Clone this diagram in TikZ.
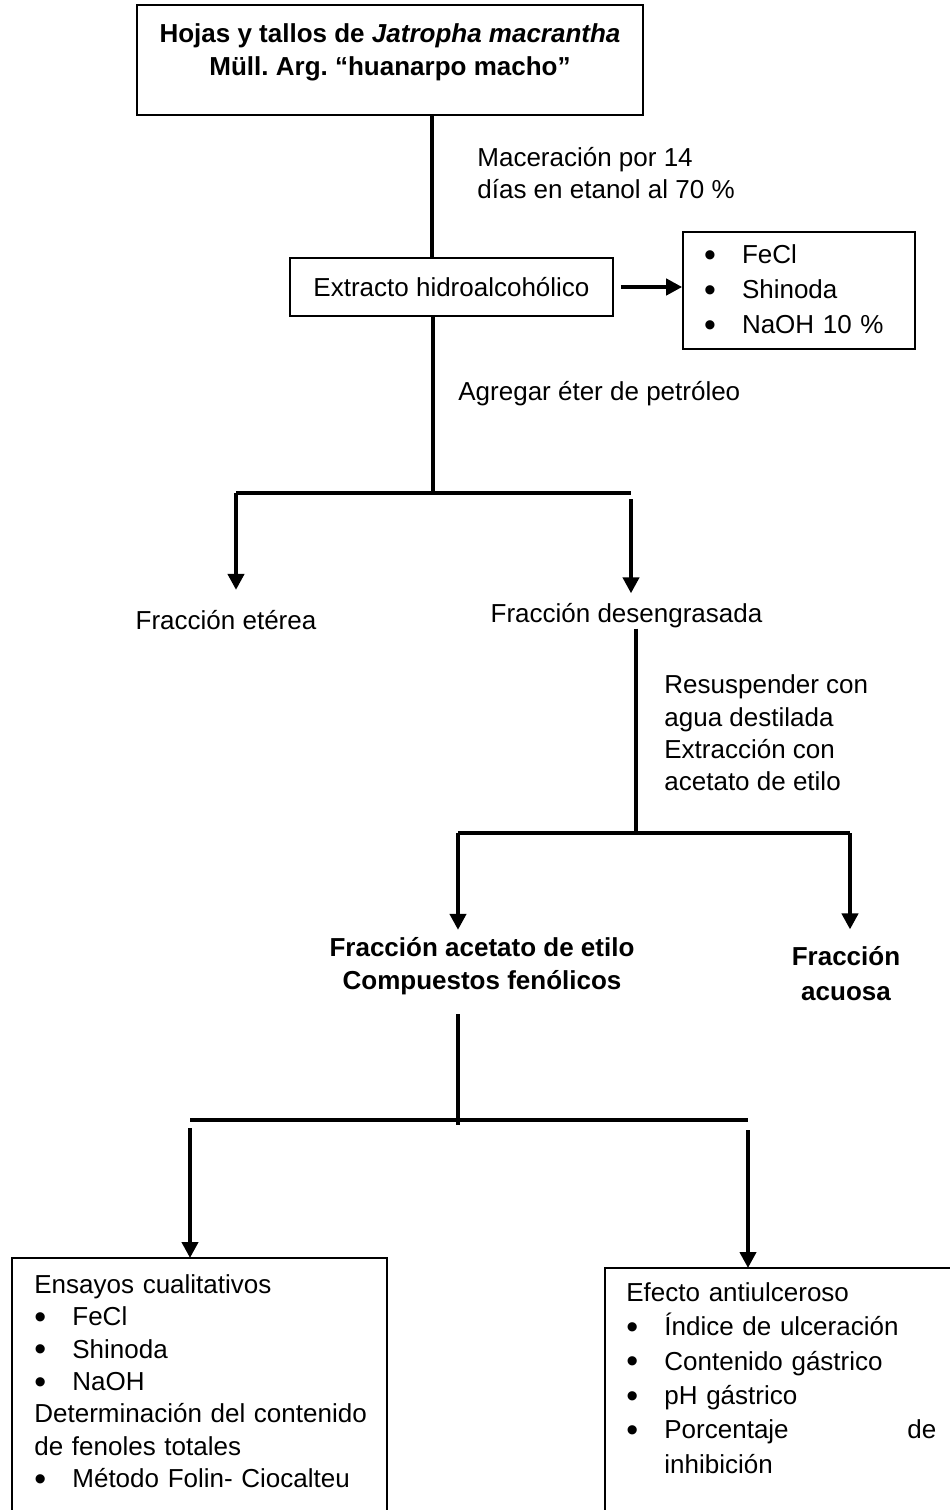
\documentclass[tikz,border=0pt]{standalone}
\usepackage{fontspec}
\setmainfont{Liberation Sans}
\usetikzlibrary{arrows.meta}
\frenchspacing

\newcommand{\bala}{\makebox[19pt][l]{\raisebox{-0.1em}{\scalebox{1.3}{\textbullet}}}}

\begin{document}
\begin{tikzpicture}[x=0.5pt,y=-0.5pt,>={Triangle[length=8pt,width=8pt]},
  linea/.style={line width=2pt},
  marco/.style={line width=0.8pt},
  caja/.style={draw,line width=0.8pt,inner sep=0pt},
  texto/.style={font=\fontsize{13pt}{16.2pt}\selectfont,inner sep=0pt,align=left},
  negrita/.style={font=\fontsize{13pt}{16.5pt}\selectfont\bfseries,inner sep=0pt,align=center}]

\useasboundingbox (0,0) rectangle (950,1510);

% cajas y textos
\node[caja,minimum width=253pt,minimum height=55pt] (hojas) at (390,60) {};
\node[negrita] (titulo) at (390,52) {Hojas y tallos de \textit{Jatropha macrantha}\\Müll. Arg. “huanarpo macho”};

\node[caja,texto,minimum width=161.5pt,minimum height=29pt] (extracto) at (451.5,287) {Extracto hidroalcohólico};
\node[caja,texto,text width=95pt,inner xsep=10.5pt,minimum height=58.5pt,
  font=\fontsize{13pt}{17.5pt}\selectfont] (lista) at (799,290.5)
  {\bala FeCl\\\bala Shinoda\\\bala NaOH 10 \%};

\node[texto,anchor=west] (macera) at (477,173) {Maceración por 14\\días en etanol al 70 \%};
\node[texto,anchor=west] (agregar) at (458,394) {Agregar éter de petróleo};

\node[texto] (eterea) at (226,620) {Fracción etérea};
\node[texto] (desen) at (626.5,616) {Fracción desengrasada};

\node[texto,anchor=west] (resusp) at (664,733) {Resuspender con\\agua destilada\\Extracción con\\acetato de etilo};

\node[negrita] (acetato) at (482,966) {Fracción acetato de etilo\\Compuestos fenólicos};
\node[negrita,font=\fontsize{13pt}{17.5pt}\selectfont\bfseries] (acuosa) at (846,974) {Fracción\\acuosa};

\node[texto,anchor=north west,inner xsep=11pt,inner ysep=8pt,text width=172pt] (ensayos) at (12,1258)
  {Ensayos cualitativos\\\bala FeCl\\\bala Shinoda\\\bala NaOH\\Determinación del contenido\\de fenoles totales\\\bala Método Folin- Ciocalteu};
\draw[marco] (ensayos.north west) ++(0,252) -- (ensayos.north west) -- ++(375,0) -- ++(0,252);

\node[texto,anchor=north west,inner xsep=10.5pt,inner ysep=7pt,text width=155pt,
  font=\fontsize{13pt}{17.2pt}\selectfont] (efecto) at (605,1268)
  {Efecto antiulceroso\\\bala Índice de ulceración\\\bala Contenido gástrico\\\bala pH gástrico\\\bala Porcentaje\hfill de\\\hspace*{19pt}inhibición};
\draw[marco] (efecto.north west) ++(0,242) -- (efecto.north west) -- ++(345,0);

% puntos de las ramas
\coordinate (eje1) at (432,0);
\coordinate (f1) at (433,493);
\coordinate (f1i) at (236,493);
\coordinate (f1d) at (631,493);
\coordinate (f2) at (636,833);
\coordinate (f2i) at (458,833);
\coordinate (f2d) at (850,833);
\coordinate (f3) at (458,1120);
\coordinate (f3i) at (190,1120);
\coordinate (f3d) at (748,1120);

% conectores
\draw[linea] (hojas.south -| eje1) -- (extracto.north -| eje1);
\draw[linea,->] ([xshift=3.5pt]extracto.east) -- (lista.west |- extracto.east);

\draw[linea] (extracto.south -| f1) -- (f1);
\draw[linea] (f1i) -- (f1d);
\draw[linea,->,shorten >=10pt] (f1i) -- (eterea.north -| f1i);
\draw[linea,->,shorten >=5pt] ([yshift=-3pt]f1d) -- (desen.north -| f1d);

\draw[linea] (desen.south -| f2) -- (f2);
\draw[linea] (f2i) -- (f2d);
\draw[linea,->,shorten >=3.5pt] (f2i) -- (acetato.north -| f2i);
\draw[linea,->,shorten >=8.5pt] (f2d) -- (acuosa.north -| f2d);

\draw[linea,shorten <=9.5pt] (acetato.south -| f3) -- ([yshift=-2.5pt]f3);
\draw[linea] (f3i) -- (f3d);
\draw[linea,->] ([yshift=-4pt]f3i) -- (ensayos.north -| f3i);
\draw[linea,->] ([yshift=-5pt]f3d) -- (efecto.north -| f3d);

\end{tikzpicture}
\end{document}
